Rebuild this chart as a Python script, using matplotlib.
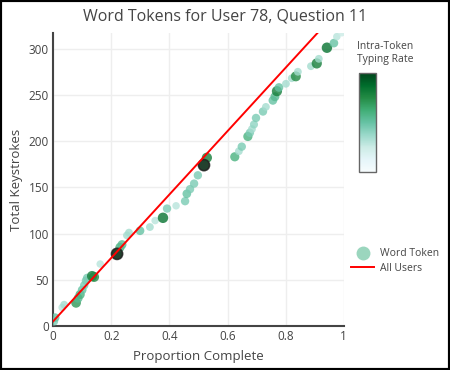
import numpy as np
import matplotlib.pyplot as plt
from matplotlib.lines import Line2D
from matplotlib.patches import Rectangle

plt.rcParams['font.family'] = ['Open Sans', 'DejaVu Sans']

# Word tokens: proportion of answer complete, cumulative keystrokes, typing rate (0-1)
proportion = [0.003, 0.007, 0.031, 0.038, 0.079, 0.086, 0.093, 0.100, 0.107, 0.113,
              0.117, 0.134, 0.141, 0.162, 0.220, 0.230, 0.237, 0.254, 0.261, 0.299,
              0.333, 0.351, 0.378, 0.392, 0.423, 0.454, 0.460, 0.471, 0.485, 0.498,
              0.519, 0.529, 0.625, 0.639, 0.649, 0.670, 0.677, 0.684, 0.691, 0.698,
              0.722, 0.732, 0.756, 0.763, 0.770, 0.777, 0.801, 0.821, 0.835, 0.842,
              0.887, 0.907, 0.914, 0.942, 0.966, 0.976, 0.993]
keystrokes = [5, 9, 20, 23, 25, 30, 34, 39, 44, 49,
              52, 54, 53, 67, 78, 85, 88, 98, 101, 103,
              107, 114, 117, 127, 130, 135, 143, 148, 154, 163,
              174, 182, 183, 189, 194, 205, 209, 213, 218, 225,
              232, 237, 244, 248, 254, 258, 262, 268, 270, 275,
              281, 284, 289, 301, 306, 313, 317]
typing_rate = [0.45, 0.5, 0.3, 0.35, 0.7, 0.55, 0.6, 0.5, 0.45, 0.45,
               0.45, 0.8, 0.75, 0.3, 1.0, 0.6, 0.55, 0.35, 0.35, 0.5,
               0.35, 0.3, 0.85, 0.45, 0.3, 0.45, 0.5, 0.45, 0.45, 0.45,
               1.0, 0.8, 0.6, 0.35, 0.45, 0.6, 0.45, 0.35, 0.4, 0.45,
               0.45, 0.35, 0.5, 0.55, 0.8, 0.5, 0.35, 0.35, 0.75, 0.35,
               0.35, 0.8, 0.35, 0.85, 0.5, 0.3, 0.25]

# Reference line across all users
all_users_x = [0, 1]
all_users_y = [5, 348]

fig = plt.figure(figsize=(4.5, 3.7), dpi=100)
ax = fig.add_axes([0.118, 0.119, 0.646, 0.792])

x = np.array(proportion)
y = np.array(keystrokes)
rate = np.array(typing_rate)
sizes = 14 + 50 * rate
sc = ax.scatter(x, y, c=rate, cmap='BuGn', vmin=0, vmax=1, s=sizes,
                alpha=0.8, edgecolors='none', zorder=3)
# fastest tokens get a dark ring
fast = rate >= 0.95
ax.scatter(x[fast], y[fast], s=sizes[fast], facecolors='#1f3a2a', edgecolors='#222222',
           linewidths=1.2, alpha=0.85, zorder=3)
ax.plot(all_users_x, all_users_y, color='red', lw=1.4, zorder=4)

ax.set_xlim(0, 1)
ax.set_ylim(0, 317)
ax.set_xticks([0, 0.2, 0.4, 0.6, 0.8, 1])
ax.set_xticklabels(['0', '0.2', '0.4', '0.6', '0.8', '1'])
ax.set_yticks([0, 50, 100, 150, 200, 250, 300])
ax.grid(color='#eeeeee', lw=1)
ax.set_axisbelow(True)
ax.tick_params(length=0, labelsize=8.5, colors='#444444', pad=3)
for side in ['top', 'right']:
    ax.spines[side].set_visible(False)
for side in ['left', 'bottom']:
    ax.spines[side].set_color('#444444')
    ax.spines[side].set_linewidth(1.5)

ax.set_xlabel('Proportion Complete', fontsize=9.5, color='#444444', labelpad=5)
ax.set_ylabel('Total Keystrokes', fontsize=9.5, color='#444444', labelpad=4)
fig.text(0.5, 0.955, 'Word Tokens for User 78, Question 11', ha='center', va='center',
         fontsize=11.5, color='#444444')

# colour bar
cax = fig.add_axes([359 / 450, 1 - 172 / 370, 17 / 450, 99 / 370])
cb = fig.colorbar(sc, cax=cax)
cb.solids.set_alpha(1)
cb.set_ticks([])
cb.outline.set_edgecolor('#666666')
cb.outline.set_linewidth(1)
fig.text(357 / 450, 1 - 53 / 370, 'Intra-Token\nTyping Rate', ha='left', va='center',
         fontsize=7.5, color='#444444', linespacing=1.3)

# legend
handles = [Line2D([], [], marker='o', ls='none', markersize=10,
                  markerfacecolor='#9bd6be', markeredgecolor='none'),
           Line2D([], [], color='red', lw=1.4)]
fig.legend(handles, ['Word Token', 'All Users'], loc='center left',
           bbox_to_anchor=(342 / 450, 1 - 261 / 370), frameon=False, fontsize=7.5,
           labelcolor='#444444', handlelength=2.2, handletextpad=0.5, labelspacing=0.35)

fig.patches.append(Rectangle((0, 0), 1, 1, transform=fig.transFigure, fill=False,
                             edgecolor='black', lw=3))

fig.savefig('out.png', dpi=100)
